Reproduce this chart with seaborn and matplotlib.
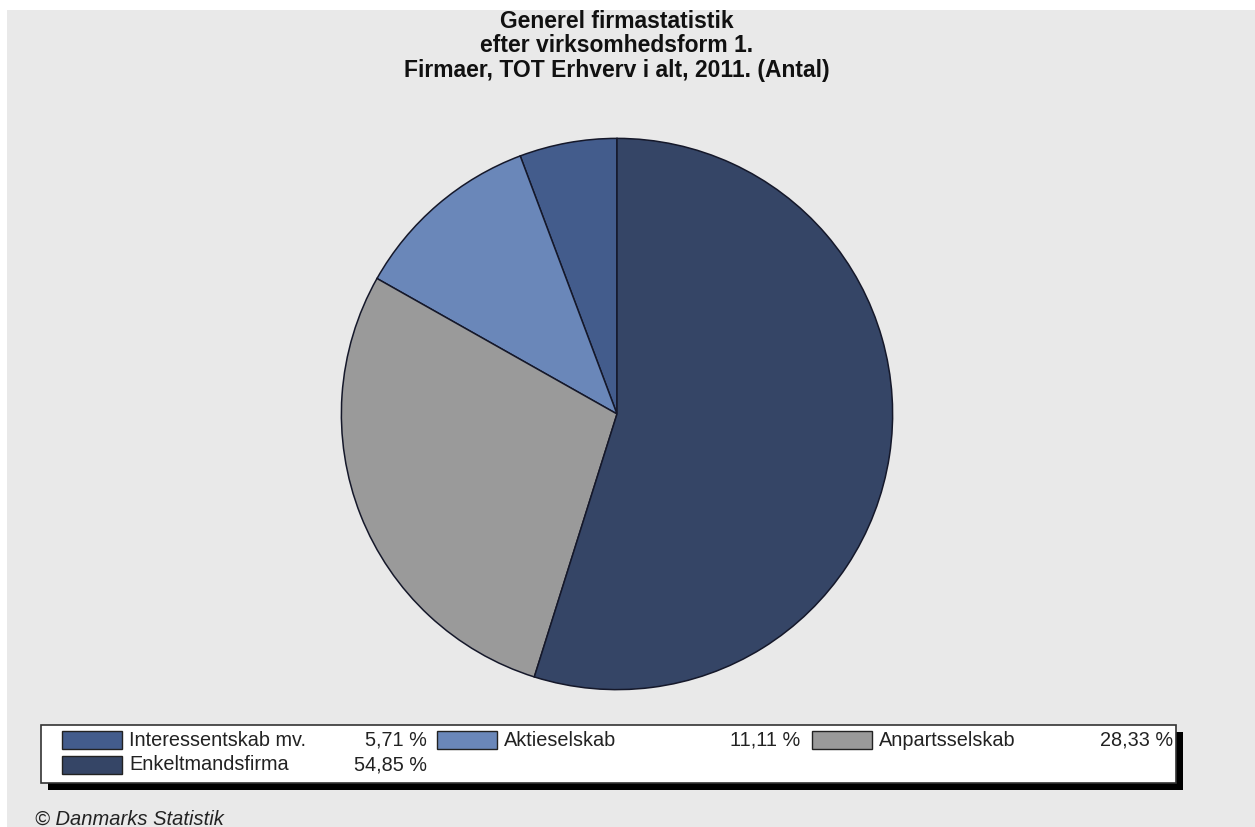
import matplotlib
matplotlib.use("Agg")
import matplotlib.pyplot as plt
from matplotlib.patches import Rectangle
import seaborn as sns

# ---- data ----
categories = ["Interessentskab mv.", "Aktieselskab", "Anpartsselskab", "Enkeltmandsfirma"]
shares = [5.71, 11.11, 28.33, 54.85]
share_labels = ["5,71 %", "11,11 %", "28,33 %", "54,85 %"]
colors = ["#435c8c", "#6a87b9", "#9a9a9a", "#354566"]
title_lines = ["Generel firmastatistik", "efter virksomhedsform 1.",
               "Firmaer, TOT Erhverv i alt, 2011. (Antal)"]
footer = "© Danmarks Statistik"

sns.set_theme(style="white")
plt.rcParams['font.family'] = ['Liberation Sans', 'DejaVu Sans']

W, H = 1255, 827
fig = plt.figure(figsize=(W / 100, H / 100), dpi=100)
fig.patch.set_facecolor("white")

def fx(px):
    return px / W

def fy(py):
    return 1 - py / H

# grey background panel
fig.add_artist(Rectangle((fx(7), 0), 1 - fx(7), fy(10), transform=fig.transFigure,
                         facecolor="#e9e9e9", edgecolor="none", zorder=0))

# title
for i, line in enumerate(title_lines):
    fig.text(fx(617), fy(22 + i * 24), line, ha="center", va="center",
             fontsize=16.5, fontweight="bold", color="#111111")

# pie
cx, cy, r = 617, 414, 277
ax = fig.add_axes([fx(cx - r), fy(cy + r), fx(2 * r), (2 * r) / H])
palette = sns.color_palette(colors)
ax.pie(shares, colors=palette, startangle=90, counterclock=True,
       wedgeprops=dict(edgecolor="#15182a", linewidth=1.1))
ax.set_xlim(-1.005, 1.005)
ax.set_ylim(-1.005, 1.005)
ax.set_aspect("equal")
ax.axis("off")

# legend box with shadow
bx0, by0, bx1, by1 = 41, 725, 1176, 783
sh = 7
fig.add_artist(Rectangle((fx(bx0 + sh), fy(by1 + sh)), fx(bx1 - bx0), (by1 - by0) / H,
                         transform=fig.transFigure, facecolor="black", edgecolor="none", zorder=1))
fig.add_artist(Rectangle((fx(bx0), fy(by1)), fx(bx1 - bx0), (by1 - by0) / H,
                         transform=fig.transFigure, facecolor="white", edgecolor="#333333",
                         linewidth=1.2, zorder=2))

# legend entries: order = categories order, 3 per row
col_patch_x = [62, 437, 812]
col_pct_right = [427, 800, 1173]
row_y = [740, 765]
for i, (cat, lab, col) in enumerate(zip(categories, share_labels, palette)):
    row, c = divmod(i, 3)
    px = col_patch_x[c]
    py = row_y[row]
    fig.add_artist(Rectangle((fx(px), fy(py + 9)), fx(60), 18 / H, transform=fig.transFigure,
                             facecolor=col, edgecolor="#222222", linewidth=1.0, zorder=3))
    fig.text(fx(px + 67), fy(py), cat, ha="left", va="center", fontsize=14.3,
             color="#222222", zorder=4)
    fig.text(fx(col_pct_right[c]), fy(py), lab, ha="right", va="center", fontsize=14.3,
             color="#222222", zorder=4)

# footer
fig.text(fx(35), fy(819), footer, ha="left", va="center", fontsize=14.5, style="italic",
         color="#222222")

fig.savefig("out.png", dpi=100)
